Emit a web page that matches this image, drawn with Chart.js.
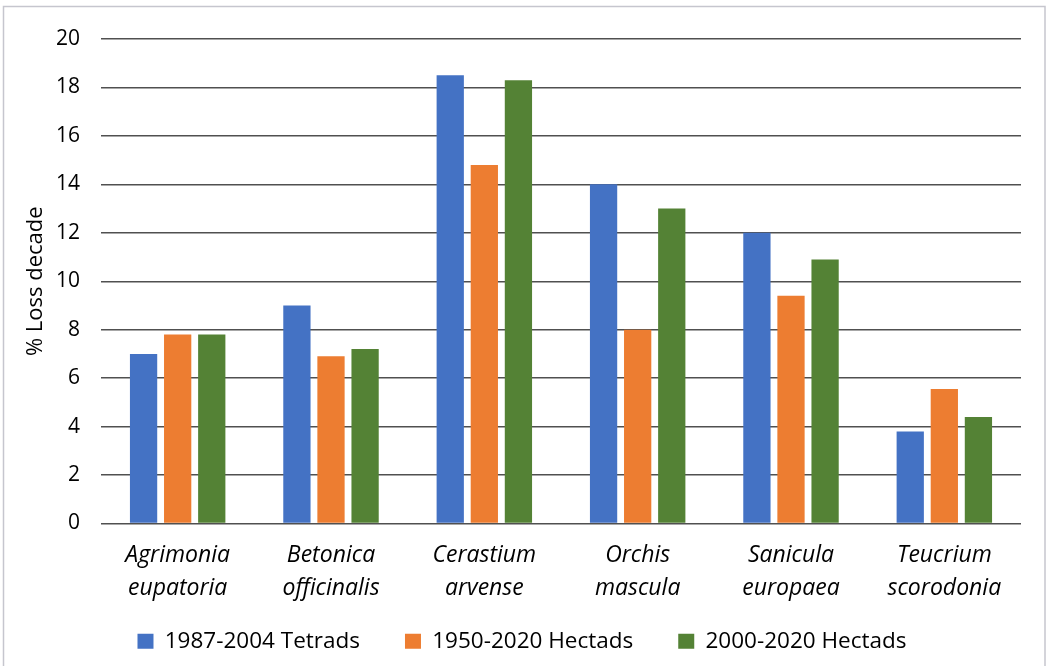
<!DOCTYPE html>
<html>
<head>
<meta charset="utf-8">
<script src="https://cdn.jsdelivr.net/npm/chart.js@4"></script>
<style>
  html, body { margin: 0; padding: 0; background: #fff; }
  #wrap { width: 1047px; height: 666px; position: relative; }
</style>
</head>
<body>
<div id="wrap"><canvas id="lossChart"></canvas></div>
<script>
// species (two-line italic labels)
const species = [
  ['Agrimonia', 'eupatoria'],
  ['Betonica', 'officinalis'],
  ['Cerastium', 'arvense'],
  ['Orchis', 'mascula'],
  ['Sanicula', 'europaea'],
  ['Teucrium', 'scorodonia']
];

// % loss per decade
const tetrads8704 = [7.0, 9.0, 18.5, 14.0, 12.0, 3.8];
const hectads5020 = [7.8, 6.9, 14.8, 8.0, 9.4, 5.55];
const hectads0020 = [7.8, 7.2, 18.3, 13.0, 10.9, 4.4];

const seriesNames = ['1987-2004 Tetrads', '1950-2020 Hectads', '2000-2020 Hectads'];
const yTicks = [0, 2, 4, 6, 8, 10, 12, 14, 16, 18, 20];

const FONT = '"Open Sans", Lato, sans-serif';

// light frame round the whole chart, like the exported figure
const framePlugin = {
  id: 'frame',
  beforeDraw(chart) {
    const ctx = chart.ctx;
    ctx.save();
    ctx.fillStyle = '#ffffff';
    ctx.fillRect(0, 0, chart.width, chart.height);
    ctx.strokeStyle = '#c6c6ce';
    ctx.lineWidth = 1.5;
    ctx.strokeRect(3.5, 6.5, 1041.5, 700);
    ctx.restore();
  }
};

const ctx = document.getElementById('lossChart').getContext('2d');

new Chart(ctx, {
  type: 'bar',
  data: {
    labels: species,
    datasets: [
      { label: seriesNames[0], data: tetrads8704, backgroundColor: '#4472C4' },
      { label: seriesNames[1], data: hectads5020, backgroundColor: '#ED7D31' },
      { label: seriesNames[2], data: hectads0020, backgroundColor: '#548235' }
    ]
  },
  options: {
    responsive: true,
    maintainAspectRatio: false,
    animation: false,
    categoryPercentage: 0.667,
    barPercentage: 0.8,
    layout: { padding: { left: 23, right: 26, top: 39, bottom: 3.5 } },
    plugins: {
      tooltip: { enabled: false },
      legend: {
        position: 'bottom',
        labels: {
          boxWidth: 16,
          boxHeight: 15,
          padding: 45,
          color: '#000',
          font: { family: FONT, size: 22.5 }
        }
      }
    },
    scales: {
      x: {
        grid: { display: false, drawTicks: false },
        border: { display: false },
        ticks: {
          color: '#000',
          padding: 15.5,
          maxRotation: 0,
          font: { family: FONT, size: 23, style: 'italic', lineHeight: 1.435 }
        },
        afterFit(scale) {
          scale.height = 61.5;
          // second label line runs into the legend band, so don't clip it
          scale._computeLabelArea = () => undefined;
        }
      },
      y: {
        min: 0,
        max: 20,
        afterBuildTicks(scale) { scale.ticks = yTicks.map(v => ({ value: v })); },
        grid: { color: '#505050', lineWidth: 1.5, drawTicks: false },
        border: { display: false },
        ticks: {
          color: '#000',
          padding: 21,
          font: { family: FONT, size: 21 }
        },
        title: {
          display: true,
          text: '% Loss decade',
          color: '#000',
          padding: 0,
          font: { family: FONT, size: 22 }
        },
        afterFit(scale) { scale.width = 78; }
      }
    }
  },
  plugins: [framePlugin]
});
</script>
</body>
</html>
